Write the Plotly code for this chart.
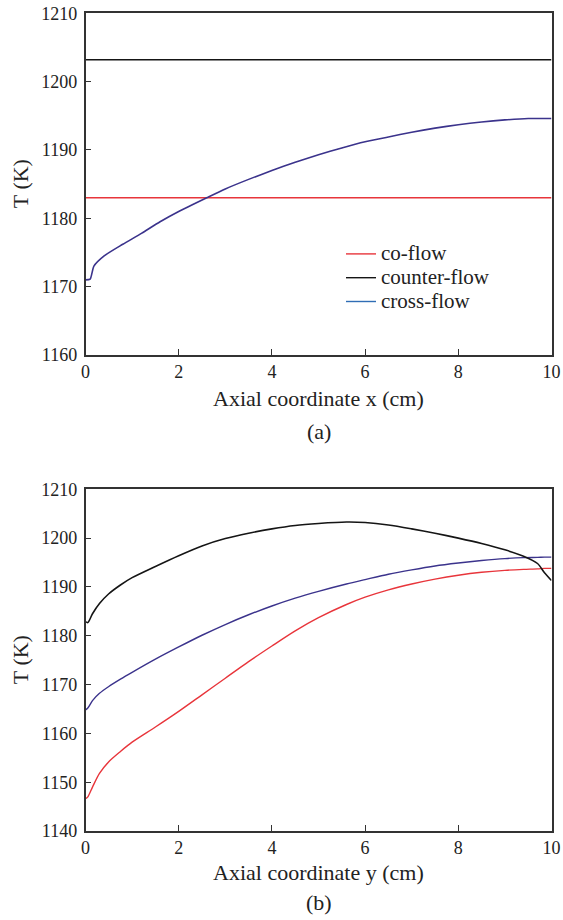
import plotly.graph_objects as go

# ---------------- data: panel (a) ----------------
xa_flat = [0, 2, 4, 6, 8, 10]
a_co = [1183.0, 1183.0, 1183.0, 1183.0, 1183.0, 1183.0]
a_counter = [1203.2, 1203.2, 1203.2, 1203.2, 1203.2, 1203.2]

xa_cross = [0, 0.1, 0.18, 0.4, 0.8, 1.2, 1.6, 2.0, 2.6, 3.0, 3.5, 4.0, 4.5,
            5.0, 5.5, 6.0, 6.5, 7.0, 7.5, 8.0, 8.5, 9.0, 9.5, 10]
a_cross = [1171.0, 1171.1, 1173.0, 1174.5, 1176.2, 1177.8, 1179.5, 1181.0,
           1183.0, 1184.3, 1185.7, 1187.0, 1188.2, 1189.3, 1190.3, 1191.2,
           1191.9, 1192.6, 1193.2, 1193.7, 1194.1, 1194.4, 1194.6, 1194.6]

# ---------------- data: panel (b) ----------------
xb = [0, 0.05, 0.15, 0.3, 0.5, 0.75, 1.0, 1.5, 2.0, 2.5, 3.0, 3.5, 4.0, 4.5,
      5.0, 5.6, 6.0, 6.5, 7.0, 7.5, 8.0, 8.5, 9.0, 9.4, 9.7, 9.85, 10]
b_counter = [1182.9, 1182.7, 1184.5, 1186.6, 1188.6, 1190.4, 1191.9, 1194.2,
             1196.4, 1198.4, 1199.9, 1201.0, 1201.9, 1202.6, 1203.0, 1203.3,
             1203.2, 1202.7, 1201.9, 1201.0, 1200.0, 1198.9, 1197.6, 1196.3,
             1194.8, 1192.9, 1191.3]
b_cross = [1164.8, 1165.2, 1166.7, 1168.2, 1169.6, 1171.1, 1172.5, 1175.2,
           1177.7, 1180.1, 1182.3, 1184.3, 1186.1, 1187.7, 1189.1, 1190.6,
           1191.5, 1192.6, 1193.5, 1194.3, 1194.9, 1195.4, 1195.8, 1196.0,
           1196.05, 1196.1, 1196.1]
b_co = [1146.6, 1147.0, 1149.0, 1151.8, 1154.2, 1156.3, 1158.2, 1161.3,
        1164.5, 1167.9, 1171.3, 1174.7, 1177.9, 1181.0, 1183.7, 1186.4,
        1187.9, 1189.4, 1190.6, 1191.6, 1192.4, 1193.0, 1193.4, 1193.6,
        1193.7, 1193.8, 1193.8]

xticks = [0, 2, 4, 6, 8, 10]
yticks_a = [1160, 1170, 1180, 1190, 1200, 1210]
yticks_b = [1140, 1150, 1160, 1170, 1180, 1190, 1200, 1210]

names = ["co-flow", "counter-flow", "cross-flow"]
RED = "#e8353b"
BLACK = "#151515"
PURPLE = "#3b338c"
BLUE = "#2f6db5"
FONT = "Liberation Serif, Times New Roman, DejaVu Serif, serif"
TXT = "#222222"


def leg(t):
    return '<span style="font-size:21px">' + t + '</span>'


fig = go.Figure()

# panel (a)
fig.add_trace(go.Scatter(x=xa_flat, y=a_co, mode="lines", name=leg(names[0]),
                         line=dict(color=RED, width=1.4), xaxis="x", yaxis="y"))
fig.add_trace(go.Scatter(x=xa_flat, y=a_counter, mode="lines", name=leg(names[1]),
                         line=dict(color=BLACK, width=1.4), xaxis="x", yaxis="y"))
fig.add_trace(go.Scatter(x=[None], y=[None], mode="lines", name=leg(names[2]),
                         line=dict(color=BLUE, width=1.4), xaxis="x", yaxis="y"))
fig.add_trace(go.Scatter(x=xa_cross, y=a_cross, mode="lines", name=names[2],
                         line=dict(color=PURPLE, width=1.6, shape="spline", smoothing=0.6),
                         showlegend=False, xaxis="x", yaxis="y"))

# panel (b)
fig.add_trace(go.Scatter(x=xb, y=b_co, mode="lines", name=names[0],
                         line=dict(color=RED, width=1.4, shape="spline", smoothing=0.8),
                         showlegend=False, xaxis="x2", yaxis="y2"))
fig.add_trace(go.Scatter(x=xb, y=b_cross, mode="lines", name=names[2],
                         line=dict(color=PURPLE, width=1.4, shape="spline", smoothing=0.8),
                         showlegend=False, xaxis="x2", yaxis="y2"))
fig.add_trace(go.Scatter(x=xb, y=b_counter, mode="lines", name=names[1],
                         line=dict(color=BLACK, width=1.6, shape="spline", smoothing=0.8),
                         showlegend=False, xaxis="x2", yaxis="y2"))

W, H = 563, 920
xdom = [85.5 / W, 551.5 / W]
ya_dom = [1 - 355 / H, 1 - 13.3 / H]
yb_dom = [1 - 831 / H, 1 - 489.3 / H]

axis_common = dict(showgrid=False, zeroline=False, showline=True, linecolor="#333333",
                   linewidth=1.5, mirror=True, ticks="inside", ticklen=6,
                   tickwidth=1.3, tickcolor="#333333", automargin=False,
                   tickfont=dict(family=FONT, size=18, color=TXT))

fig.update_layout(
    width=W, height=H,
    margin=dict(l=0, r=0, t=0, b=0, autoexpand=False),
    paper_bgcolor="white", plot_bgcolor="white",
    showlegend=True,
    legend=dict(x=341 / W, y=1 - 237 / H, xanchor="left", yanchor="top",
                bgcolor="rgba(0,0,0,0)", font=dict(family=FONT, size=16, color=TXT),
                tracegroupgap=0),
    xaxis=dict(domain=xdom, anchor="y", range=[0, 10], tickvals=xticks, **axis_common),
    yaxis=dict(domain=ya_dom, anchor="x", range=[1160, 1210], tickvals=yticks_a,
               ticklabelstandoff=3, **axis_common),
    xaxis2=dict(domain=xdom, anchor="y2", range=[0, 10], tickvals=xticks, **axis_common),
    yaxis2=dict(domain=yb_dom, anchor="x2", range=[1140, 1210], tickvals=yticks_b,
                ticklabelstandoff=3, **axis_common),
)

ann_font = dict(family=FONT, size=22, color=TXT)
annotations = [
    dict(text="Axial coordinate x (cm)", x=0.5 * (xdom[0] + xdom[1]), y=1 - 398 / H,
         xref="paper", yref="paper", showarrow=False, font=ann_font, yanchor="middle"),
    dict(text="(a)", x=0.5 * (xdom[0] + xdom[1]), y=1 - 432 / H,
         xref="paper", yref="paper", showarrow=False, font=ann_font, yanchor="middle"),
    dict(text="Axial coordinate y (cm)", x=0.5 * (xdom[0] + xdom[1]), y=1 - 872 / H,
         xref="paper", yref="paper", showarrow=False, font=ann_font, yanchor="middle"),
    dict(text="(b)", x=0.5 * (xdom[0] + xdom[1]), y=1 - 902 / H,
         xref="paper", yref="paper", showarrow=False, font=ann_font, yanchor="middle"),
    dict(text="T (K)", x=20 / W, y=0.5 * (ya_dom[0] + ya_dom[1]), textangle=-90,
         xref="paper", yref="paper", showarrow=False, font=ann_font,
         xanchor="center", yanchor="middle"),
    dict(text="T (K)", x=20 / W, y=0.5 * (yb_dom[0] + yb_dom[1]), textangle=-90,
         xref="paper", yref="paper", showarrow=False, font=ann_font,
         xanchor="center", yanchor="middle"),
]
fig.update_layout(annotations=annotations)

fig.write_html("out.html", config={"displayModeBar": False},
               post_script="document.body.style.margin='0';document.body.style.overflow='hidden';")
